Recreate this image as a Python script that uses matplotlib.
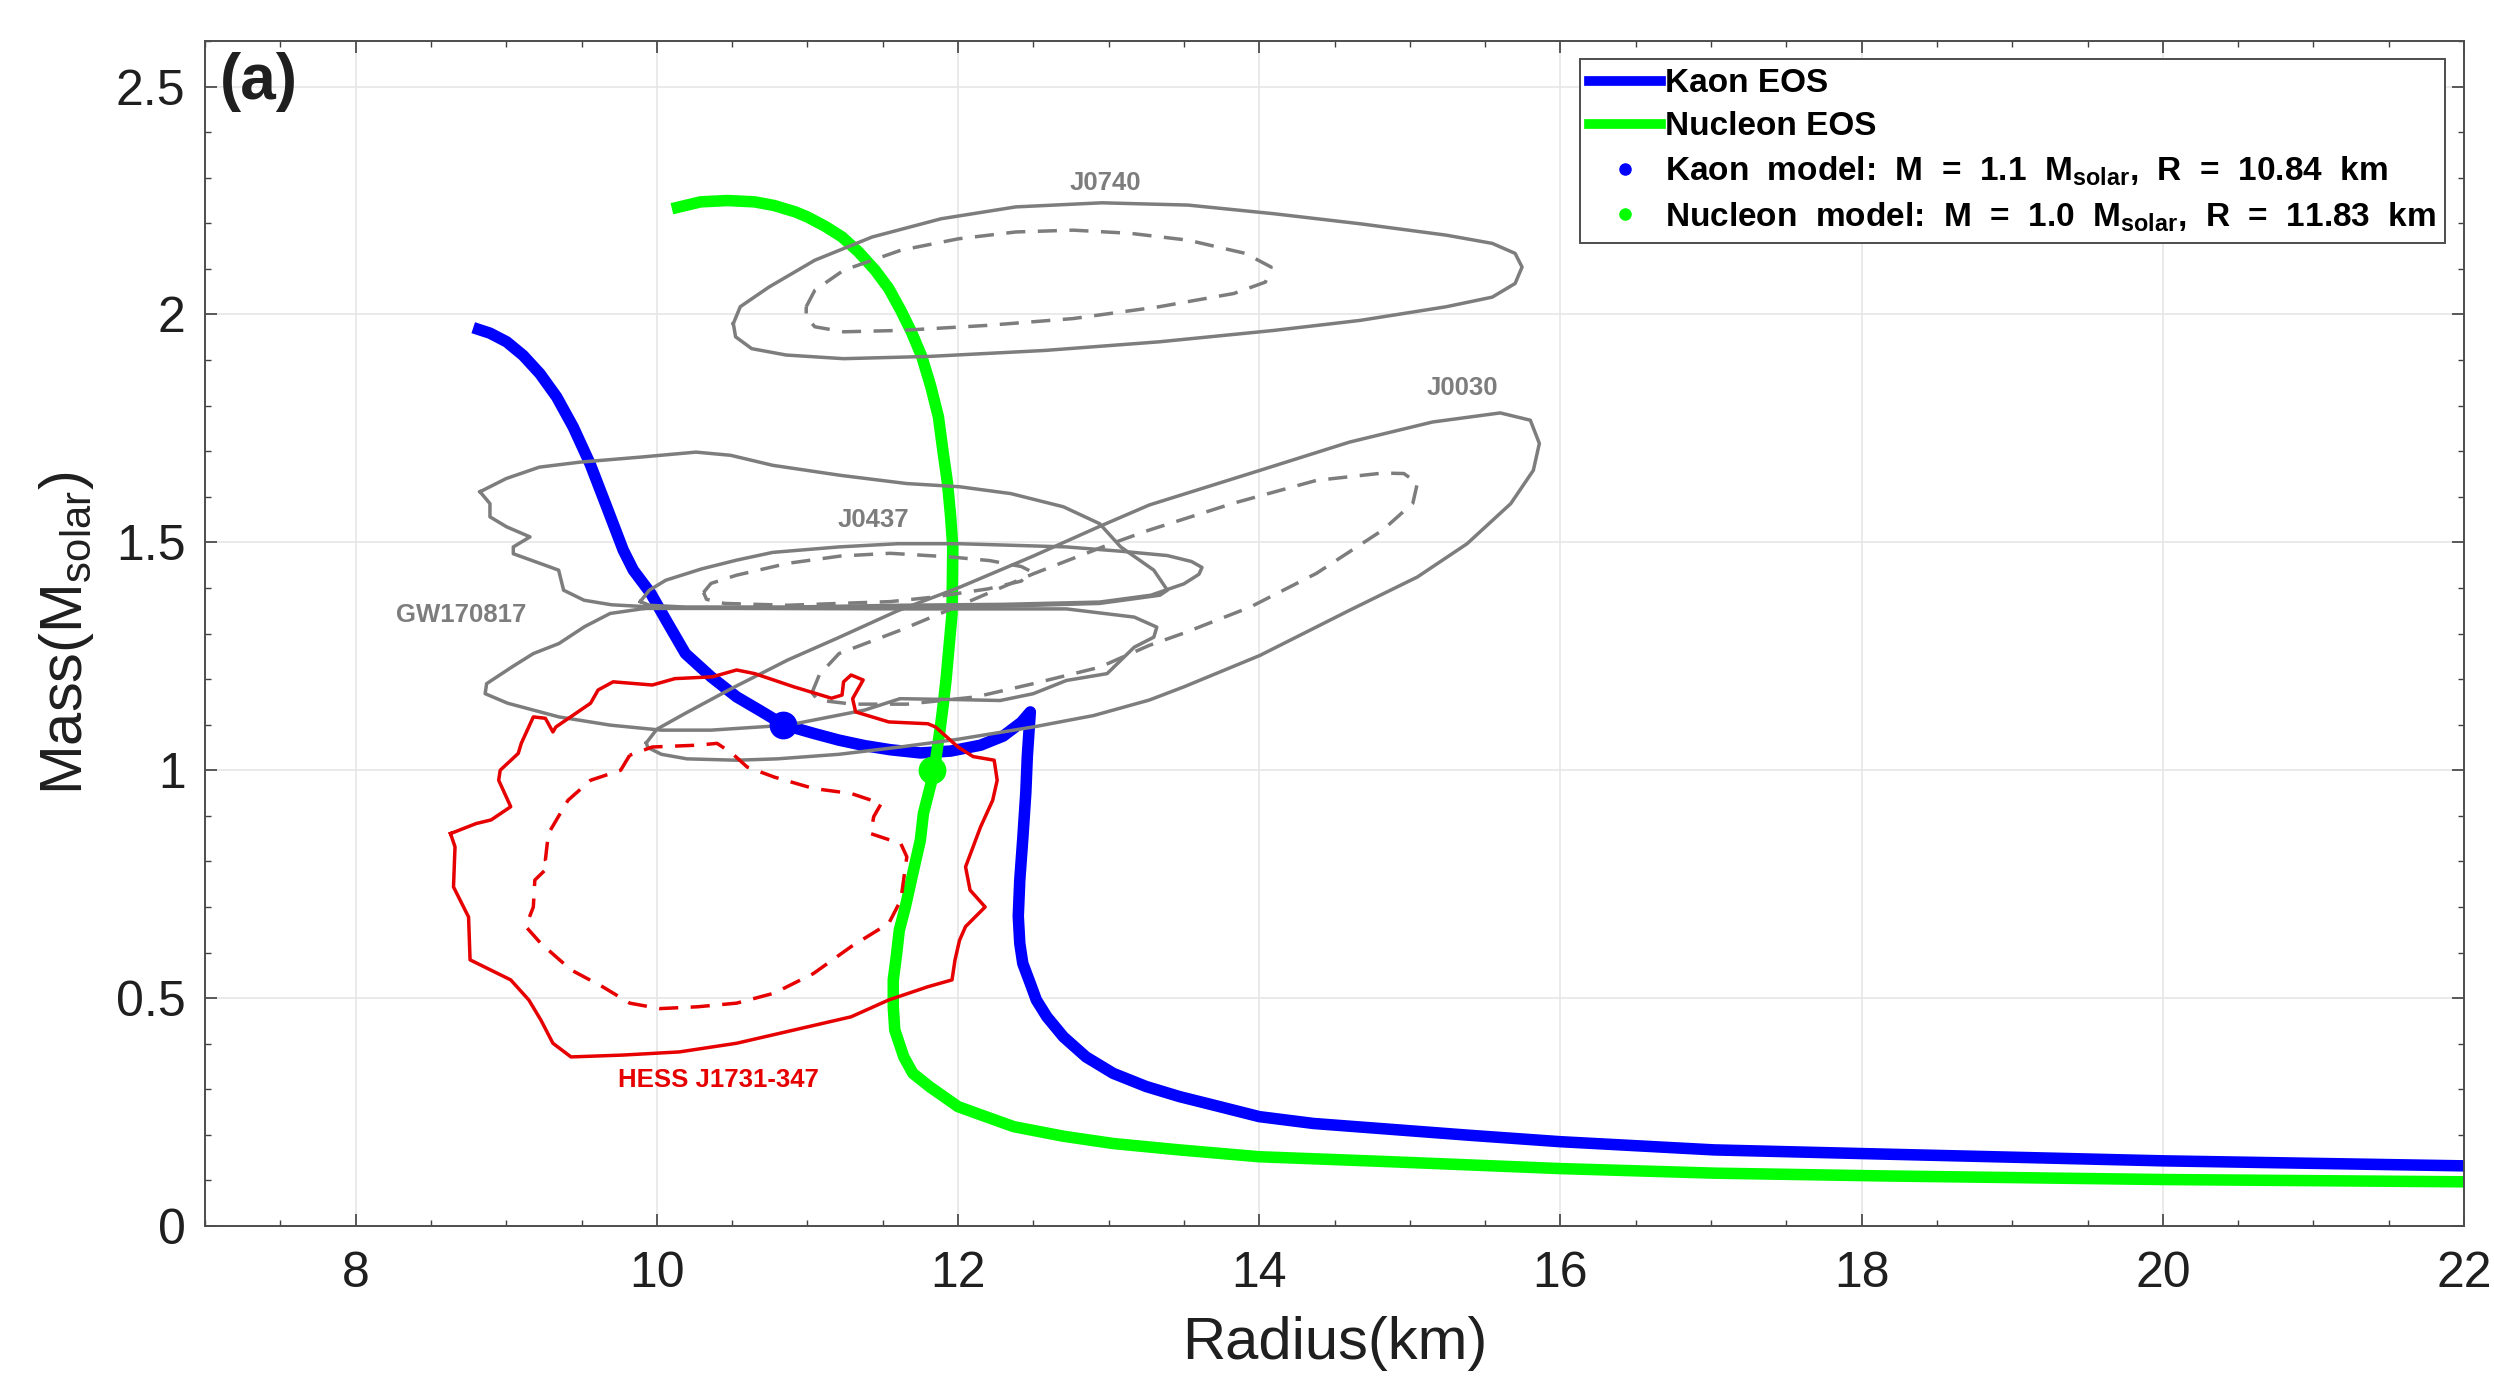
import numpy as np
import matplotlib
matplotlib.use("Agg")
import matplotlib.pyplot as plt
from matplotlib.lines import Line2D

plt.rcParams['font.family'] = ['Liberation Sans', 'DejaVu Sans']

# === Data ===
# Mass-radius curves, ordered from low mass / large radius upwards
kaon_R = [22.0, 20.0, 18.12, 17.02, 16.0, 15.4, 14.8, 14.36, 14.0, 13.70, 13.47, 13.25,
          13.03, 12.85, 12.7, 12.59, 12.52, 12.48, 12.43, 12.41, 12.40, 12.41, 12.43, 12.45,
          12.46, 12.47, 12.48, 12.42, 12.3, 12.15, 11.95, 11.75, 11.55, 11.38, 11.21, 11.04,
          10.84, 10.70, 10.53, 10.36, 10.19, 10.06, 9.96, 9.844, 9.777, 9.667, 9.556, 9.445,
          9.335, 9.224, 9.113, 9.003, 8.892, 8.781]
kaon_M = [0.132, 0.143, 0.158, 0.167, 0.185, 0.199, 0.214, 0.225, 0.24, 0.265, 0.284, 0.306,
          0.335, 0.371, 0.415, 0.459, 0.496, 0.532, 0.576, 0.62, 0.68, 0.759, 0.85, 0.95,
          1.03, 1.08, 1.128, 1.105, 1.075, 1.055, 1.042, 1.038, 1.045, 1.054, 1.066, 1.081,
          1.10, 1.128, 1.161, 1.205, 1.256, 1.33, 1.388, 1.439, 1.483, 1.578, 1.673, 1.753,
          1.819, 1.870, 1.910, 1.940, 1.959, 1.971]

nucl_R = [22.0, 20.0, 18.12, 17.02, 16.0, 14.8, 14.0, 13.47, 13.03, 12.7, 12.37, 12.15,
          12.0, 11.81, 11.70, 11.64, 11.58, 11.57, 11.57, 11.59, 11.61, 11.65, 11.70, 11.75,
          11.77, 11.84, 11.88, 11.90, 11.92, 11.94, 11.96, 11.965, 11.95, 11.93, 11.90,
          11.87, 11.82, 11.76, 11.69, 11.62, 11.54, 11.45, 11.34, 11.23, 11.12, 11.0, 10.92,
          10.78, 10.65, 10.47, 10.29, 10.10]
nucl_M = [0.097, 0.102, 0.11, 0.116, 0.126, 0.142, 0.152, 0.167, 0.181, 0.197, 0.218, 0.244,
          0.262, 0.306, 0.335, 0.371, 0.43, 0.481, 0.54, 0.591, 0.649, 0.70, 0.774, 0.847,
          0.905, 0.996, 1.088, 1.139, 1.197, 1.27, 1.343, 1.49, 1.56, 1.63, 1.70,
          1.775, 1.841, 1.907, 1.962, 2.009, 2.057, 2.097, 2.137, 2.17, 2.193, 2.214, 2.225,
          2.239, 2.247, 2.25, 2.247, 2.232]

kaon_pt = (10.84, 1.1)
nucl_pt = (11.83, 1.0)

# Observational contours (R in km, M in Msolar)
j0740_R = [10.508, 10.554, 10.744, 11.049, 11.430, 11.888, 12.383, 12.955, 13.527, 14.098,
           14.670, 15.242, 15.547, 15.699, 15.745, 15.699, 15.547, 15.242, 14.670, 14.098,
           13.336, 12.574, 11.811, 11.240, 10.859, 10.630, 10.523, 10.508]
j0740_M = [1.980, 2.017, 2.060, 2.119, 2.170, 2.210, 2.236, 2.245, 2.240, 2.221,
           2.199, 2.174, 2.156, 2.134, 2.104, 2.068, 2.038, 2.017, 1.987, 1.965,
           1.940, 1.921, 1.908, 1.903, 1.911, 1.925, 1.951, 1.980]
j0740_in_R = [10.992, 11.049, 11.240, 11.621, 12.002, 12.383, 12.764, 13.145, 13.527, 13.908,
              14.079, 14.041, 13.831, 13.336, 12.764, 12.193, 11.621, 11.240, 11.049, 10.992,
              10.992]
j0740_in_M = [2.017, 2.053, 2.097, 2.141, 2.166, 2.181, 2.185, 2.178, 2.163, 2.134,
              2.104, 2.071, 2.046, 2.017, 1.991, 1.976, 1.965, 1.962, 1.973, 1.995,
              2.017]

j0030_R = [9.93, 10.0, 10.19, 10.5, 10.87, 11.2, 11.6, 12.0, 12.5, 12.94, 13.27, 14.005,
           14.6, 15.15, 15.6, 15.8, 15.86, 15.82, 15.67, 15.38, 15.05, 14.6, 14.005, 13.5,
           13.27, 12.9, 12.5, 12.0, 11.615, 11.21, 10.8, 10.53, 10.2, 10.03, 9.94, 9.93]
j0030_M = [1.06, 1.09, 1.125, 1.18, 1.242, 1.29, 1.35, 1.40, 1.47, 1.535, 1.582, 1.658,
           1.72, 1.764, 1.784, 1.768, 1.717, 1.658, 1.585, 1.497, 1.424, 1.351, 1.252, 1.183,
           1.154, 1.12, 1.095, 1.068, 1.051, 1.035, 1.025, 1.022, 1.025, 1.035, 1.05, 1.06]
j0030_in_R = [11.03, 11.08, 11.21, 11.615, 12.0, 12.5, 13.0, 13.27, 13.83, 14.38, 14.82,
              14.96, 15.05, 15.02, 14.82, 14.38, 13.94, 13.5, 13.27, 12.94, 12.5, 12.12,
              11.66, 11.3, 11.07, 11.03]
j0030_in_M = [1.17, 1.21, 1.256, 1.307, 1.36, 1.431, 1.495, 1.527, 1.586, 1.636, 1.652,
              1.651, 1.630, 1.586, 1.527, 1.432, 1.358, 1.301, 1.274, 1.226, 1.19, 1.161,
              1.145, 1.145, 1.154, 1.17]

j0437_R = [9.89, 9.95, 10.06, 10.3, 10.53, 10.77, 11.21, 11.6, 12.01, 12.72, 13.1, 13.39,
           13.55, 13.62, 13.6, 13.5, 13.28, 12.94, 12.3, 11.615, 10.87, 10.19, 9.95, 9.89]
j0437_M = [1.37, 1.395, 1.417, 1.442, 1.461, 1.478, 1.49, 1.497, 1.497, 1.49, 1.48, 1.471,
           1.458, 1.445, 1.43, 1.409, 1.384, 1.369, 1.364, 1.362, 1.358, 1.358, 1.362, 1.37]
j0437_in_R = [10.31, 10.36, 10.53, 10.87, 11.22, 11.55, 11.95, 12.21, 12.42, 12.48, 12.42,
              12.2, 11.84, 11.55, 10.87, 10.45, 10.33, 10.31]
j0437_in_M = [1.39, 1.41, 1.428, 1.454, 1.47, 1.476, 1.468, 1.46, 1.447, 1.437, 1.415,
              1.398, 1.38, 1.37, 1.362, 1.366, 1.375, 1.39]

gw_up_R = [8.826, 9.0, 9.22, 9.49, 9.89, 10.26, 10.49, 10.77, 11.22, 11.66, 12.01, 12.35,
           12.7, 12.94, 13.08, 13.3, 13.39, 13.34, 12.94, 12.3, 11.615, 10.8, 10.2, 9.923,
           9.7, 9.517, 9.381, 9.348, 9.290, 9.047, 9.047, 9.158, 9.003, 8.892, 8.892, 8.826]
gw_up_M = [1.611, 1.64, 1.665, 1.676, 1.687, 1.698, 1.691, 1.669, 1.647, 1.629, 1.622, 1.607,
           1.578, 1.541, 1.49, 1.439, 1.395, 1.384, 1.366, 1.36, 1.358, 1.357, 1.357, 1.359,
           1.363, 1.373, 1.395, 1.439, 1.446, 1.475, 1.490, 1.512, 1.534, 1.556, 1.585, 1.611]
gw_lo_R = [9.92, 9.69, 9.52, 9.35, 9.18, 9.04, 8.87, 8.86, 9.01, 9.35, 9.69, 10.03, 10.36,
           10.87, 11.38, 11.615, 12.0, 12.28, 12.5, 12.72, 12.99, 13.17, 13.3, 13.32, 13.17,
           12.72, 11.615, 10.5, 9.92]
gw_lo_M = [1.355, 1.344, 1.315, 1.278, 1.256, 1.227, 1.19, 1.168, 1.147, 1.117, 1.099, 1.088,
           1.088, 1.099, 1.132, 1.157, 1.155, 1.153, 1.168, 1.197, 1.212, 1.27, 1.292, 1.314,
           1.336, 1.354, 1.354, 1.355, 1.355]

hess_R = [8.63, 8.66, 8.65, 8.75, 8.76, 9.03, 9.15, 9.23, 9.31, 9.43, 9.77, 10.15, 10.53,
          10.91, 11.29, 11.54, 11.80, 11.96, 11.98, 12.01, 12.05, 12.18, 12.08, 12.05, 12.15,
          12.23, 12.26, 12.24, 12.1, 12.0, 11.85, 11.80, 11.54, 11.32, 11.30, 11.37, 11.29,
          11.24, 11.23, 11.16, 10.91, 10.65, 10.53, 10.37, 10.12, 9.97, 9.71, 9.61, 9.56,
          9.33, 9.31, 9.26, 9.18, 9.10, 9.08, 8.96, 8.95, 9.03, 8.9, 8.8, 8.63]
hess_M = [0.861, 0.832, 0.744, 0.678, 0.584, 0.54, 0.496, 0.452, 0.401, 0.371, 0.375, 0.382,
          0.401, 0.43, 0.459, 0.496, 0.525, 0.54, 0.584, 0.627, 0.657, 0.70, 0.737, 0.788,
          0.876, 0.934, 0.978, 1.022, 1.03, 1.051, 1.095, 1.102, 1.106, 1.128, 1.157, 1.198,
          1.209, 1.194, 1.165, 1.158, 1.183, 1.212, 1.22, 1.205, 1.201, 1.187, 1.194, 1.176,
          1.147, 1.095, 1.084, 1.114, 1.117, 1.059, 1.037, 1.0, 0.978, 0.92, 0.891, 0.883,
          0.861]
hess_in_R = [9.82, 9.76, 9.56, 9.41, 9.28, 9.26, 9.28, 9.19, 9.18, 9.13, 9.23, 9.43, 9.64,
             9.82, 10.02, 10.27, 10.53, 10.78, 11.04, 11.29, 11.54, 11.62, 11.66, 11.62,
             11.42, 11.44, 11.49, 11.29, 11.04, 10.78, 10.6, 10.5, 10.4, 10.27, 9.97, 9.82]
hess_in_M = [1.033, 1.0, 0.978, 0.934, 0.861, 0.803, 0.788, 0.759, 0.7, 0.657, 0.62, 0.562,
             0.525, 0.489, 0.477, 0.481, 0.489, 0.511, 0.554, 0.613, 0.664, 0.715, 0.81,
             0.839, 0.861, 0.898, 0.927, 0.949, 0.96, 0.985, 1.007, 1.037, 1.059, 1.055,
             1.051, 1.033]

x_ticks = [8, 10, 12, 14, 16, 18, 20, 22]
y_ticks = [0, 0.5, 1, 1.5, 2, 2.5]
y_ticklabels = ["0", "0.5", "1", "1.5", "2", "2.5"]

GRAY = (0.49, 0.49, 0.49)
RED = (0.9, 0.0, 0.0)
TXT = (0.12, 0.12, 0.12)


def main():
    fig = plt.figure(figsize=(24.94, 13.76), dpi=100)
    ax = fig.add_axes([0.0822, 0.1090, 0.9058, 0.8612])

    # EOS curves
    eos = dict(lw=8.3, solid_capstyle='butt', solid_joinstyle='round', zorder=2)
    ax.plot(kaon_R, kaon_M, color=(0, 0, 1), **eos)
    ax.plot(nucl_R, nucl_M, color=(0, 1, 0), **eos)

    # contours
    dash = (0, (5.5, 3.6))
    cont = dict(lw=2.5, solid_joinstyle='round', zorder=3)
    ax.plot(j0740_R, j0740_M, color=GRAY, **cont)
    ax.plot(j0740_in_R, j0740_in_M, color=GRAY, ls=dash, **cont)
    ax.plot(j0030_R, j0030_M, color=GRAY, **cont)
    ax.plot(j0030_in_R, j0030_in_M, color=GRAY, ls=dash, **cont)
    ax.plot(j0437_R, j0437_M, color=GRAY, **cont)
    ax.plot(j0437_in_R, j0437_in_M, color=GRAY, ls=dash, **cont)
    ax.plot(gw_up_R, gw_up_M, color=GRAY, **cont)
    ax.plot(gw_lo_R, gw_lo_M, color=GRAY, **cont)
    ax.plot(hess_R, hess_M, color=RED, **cont)
    ax.plot(hess_in_R, hess_in_M, color=RED, ls=dash, **cont)

    # model points
    ax.plot(*kaon_pt, 'o', color=(0, 0, 1), ms=19, zorder=4)
    ax.plot(*nucl_pt, 'o', color=(0, 1, 0), ms=19, zorder=4)

    # contour labels
    lab = dict(fontsize=18.5, fontweight='bold', ha='center', va='center', zorder=5)
    ax.text(12.98, 2.288, "J0740", color=GRAY, **lab)
    ax.text(15.35, 1.838, "J0030", color=GRAY, **lab)
    ax.text(11.44, 1.549, "J0437", color=GRAY, **lab)
    ax.text(8.70, 1.34, "GW170817", color=GRAY, **lab)
    ax.text(10.41, 0.32, "HESS J1731-347", color=RED, **lab)
    ax.text(7.1, 2.51, "(a)", fontsize=46, fontweight='bold', ha='left', va='center',
            color=TXT)

    # axes styling (MATLAB look)
    ax.set_xlim(7, 22)
    ax.set_ylim(0, 2.6)
    ax.set_xticks(x_ticks)
    ax.set_xticks(np.arange(7, 22.01, 0.5), minor=True)
    ax.set_yticks(y_ticks)
    ax.set_yticklabels(y_ticklabels)
    ax.set_yticks(np.arange(0, 2.601, 0.1), minor=True)
    ax.tick_params(which='both', direction='in', top=True, right=True,
                   colors=(0.25, 0.25, 0.25), labelcolor=TXT)
    ax.tick_params(which='major', length=8.6, width=1.2, labelsize=36)
    ax.tick_params(axis='x', which='major', pad=18)
    ax.tick_params(axis='y', which='major', pad=14)
    ax.tick_params(which='minor', length=4.3, width=1.0)
    for sp in ax.spines.values():
        sp.set_color((0.3, 0.3, 0.3))
        sp.set_linewidth(1.4)
    ax.grid(True, which='major', color=(0.9, 0.9, 0.9), lw=1.2, zorder=0)
    ax.set_axisbelow(True)

    ax.set_xlabel("Radius(km)", fontsize=43, color=TXT, labelpad=14)
    ax.set_ylabel(r"Mass(M$_\mathregular{solar}$)", fontsize=43, color=TXT, labelpad=14)

    handles = [
        Line2D([], [], color=(0, 0, 1), lw=7),
        Line2D([], [], color=(0, 1, 0), lw=7),
        Line2D([], [], color=(0, 0, 1), ls='none', marker='o', ms=8),
        Line2D([], [], color=(0, 1, 0), ls='none', marker='o', ms=8),
    ]
    labels = [
        "Kaon EOS",
        "Nucleon EOS",
        r"Kaon  model:  M  =  1.1  M$_\mathregular{solar}$,  R  =  10.84  km",
        r"Nucleon  model:  M  =  1.0  M$_\mathregular{solar}$,  R  =  11.83  km",
    ]
    leg = ax.legend(handles, labels, loc='upper right', bbox_to_anchor=(0.9916, 0.9848),
                    borderaxespad=0, prop={'size': 24, 'weight': 'bold'},
                    handlelength=2.15, handletextpad=0.12, labelspacing=0.36,
                    borderpad=0.28, fancybox=False, framealpha=1, edgecolor=(0.3, 0.3, 0.3))
    leg.get_frame().set_linewidth(1.4)

    fig.savefig("out.png", dpi=100)
    plt.close(fig)


if __name__ == "__main__":
    main()
